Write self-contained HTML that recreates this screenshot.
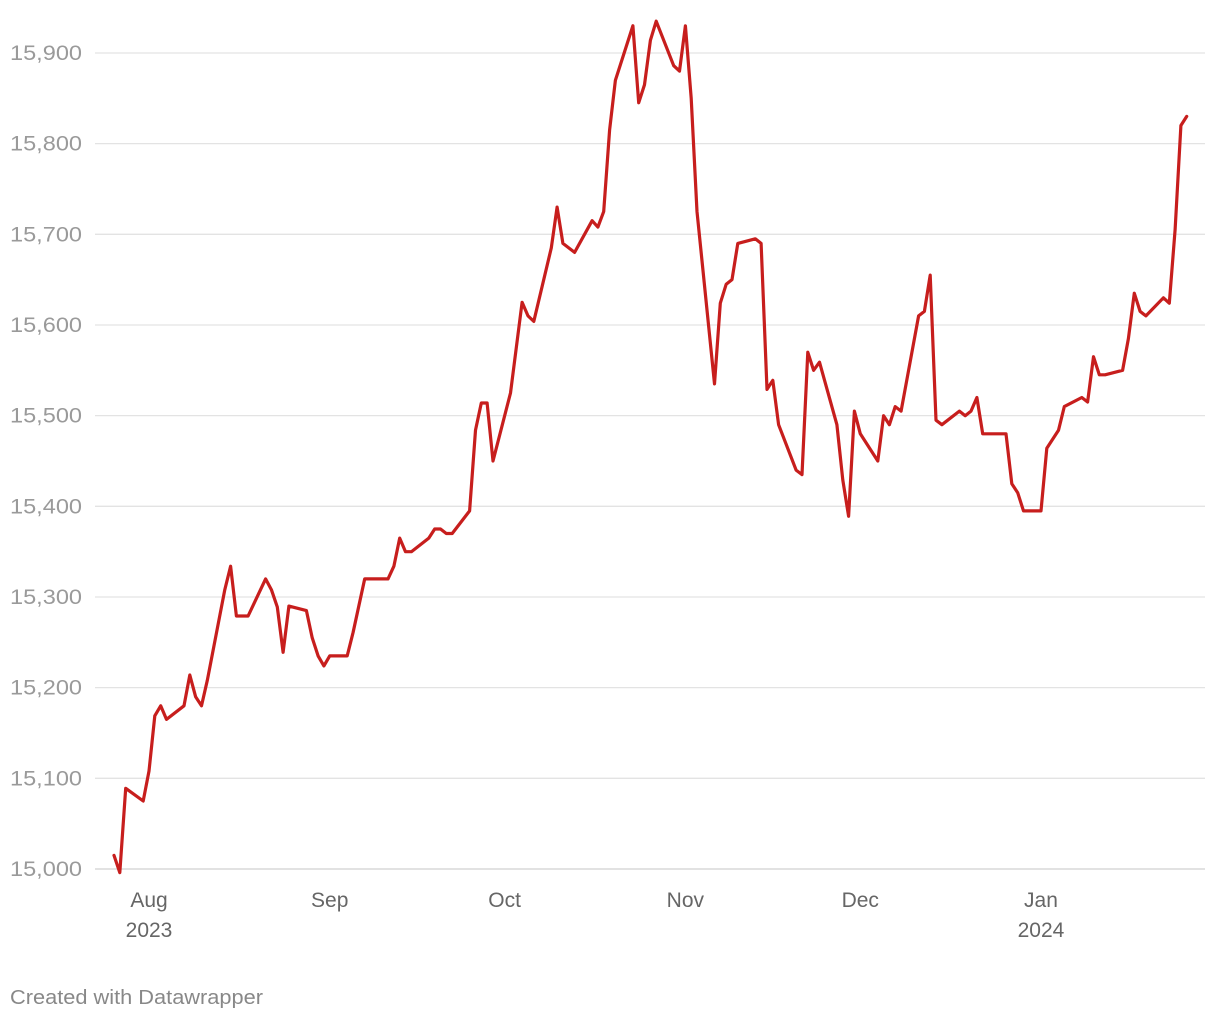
<!DOCTYPE html>
<html><head><meta charset="utf-8"><style>
html,body{margin:0;padding:0;background:#fff;}
svg{display:block;font-family:"Liberation Sans",Arial,sans-serif;}
</style></head><body>
<svg id="chart" width="1220" height="1020" viewBox="0 0 1220 1020"></svg>
<script>
const days=[-6,-5,-4,-1,0,1,2,3,6,7,8,9,10,13,14,15,17,20,21,22,23,24,27,28,29,30,31,34,35,37,41,42,43,44,45,48,49,50,51,52,55,56,57,58,59,62,64,65,66,69,70,71,73,76,77,78,79,80,83,84,85,86,87,90,91,92,93,94,97,98,99,100,101,104,105,106,107,108,111,112,113,114,115,118,119,120,121,122,125,126,127,128,129,132,133,134,135,136,139,140,141,142,143,147,148,149,150,153,154,156,157,160,161,162,163,164,167,168,169,170,171,174,175,176,177,178];
const values=[15015,14996,15089,15075,15108,15169,15180,15165,15180,15214,15190,15180,15208,15308,15334,15279,15279,15320,15308,15289,15239,15290,15285,15255,15235,15224,15235,15235,15261,15320,15320,15334,15365,15350,15350,15365,15375,15375,15370,15370,15395,15484,15514,15514,15450,15525,15625,15610,15604,15685,15730,15690,15680,15715,15708,15725,15815,15870,15930,15845,15865,15914,15935,15886,15880,15930,15850,15725,15535,15624,15645,15650,15690,15695,15690,15529,15539,15490,15440,15435,15570,15550,15559,15490,15429,15389,15505,15480,15450,15500,15490,15510,15505,15610,15615,15655,15495,15490,15505,15500,15505,15520,15480,15480,15425,15415,15395,15395,15464,15484,15510,15520,15515,15565,15545,15545,15550,15585,15635,15615,15610,15630,15624,15705,15820,15830];
const yTicks=[15000,15100,15200,15300,15400,15500,15600,15700,15800,15900];
const xTickDays=[0,31,61,92,122,153];
const xTickLabels=["Aug","Sep","Oct","Nov","Dec","Jan"];
const xTickYears=["2023","","","","","2024"];

const svg=document.getElementById('chart');
const NS='http://www.w3.org/2000/svg';
function xS(d){return 149+d*5.83;}
function yS(v){return 869-(v-15000)*0.9067;}
function mk(t,a){const e=document.createElementNS(NS,t);for(const k in a)e.setAttribute(k,a[k]);svg.appendChild(e);return e;}

yTicks.forEach(v=>{
  const g=mk('line',{x1:95,x2:1205,y1:yS(v),y2:yS(v),stroke:v===15000?'#d0d0d0':'#e3e3e3','stroke-width':1.3});
  
  
  const t=mk('text',{x:10,y:yS(v)+7,fill:'#9a9a9a','font-size':21,textLength:72,lengthAdjust:'spacingAndGlyphs'});
  t.textContent=v.toLocaleString('en-US');
  
  
});
xTickDays.forEach((d,i)=>{
  const t=mk('text',{x:xS(d),y:907,fill:'#666','font-size':21,'text-anchor':'middle'});
  t.textContent=xTickLabels[i];
  
  
  if(xTickYears[i]){
    const t2=mk('text',{x:xS(d),y:937,fill:'#666','font-size':21,'text-anchor':'middle'});
    t2.textContent=xTickYears[i];
    
    
  }
});
const pts=days.map((d,i)=>xS(d).toFixed(1)+','+yS(values[i]).toFixed(1)).join(' ');
const line=mk('polyline',{points:pts,fill:'none',stroke:'#c71e1d','stroke-width':3.2,'stroke-linejoin':'round','stroke-linecap':'round'});


const f=mk('text',{x:10,y:1004,fill:'#888','font-size':20,textLength:253,lengthAdjust:'spacingAndGlyphs'});
f.textContent='Created with Datawrapper';


</script>
</body></html>
